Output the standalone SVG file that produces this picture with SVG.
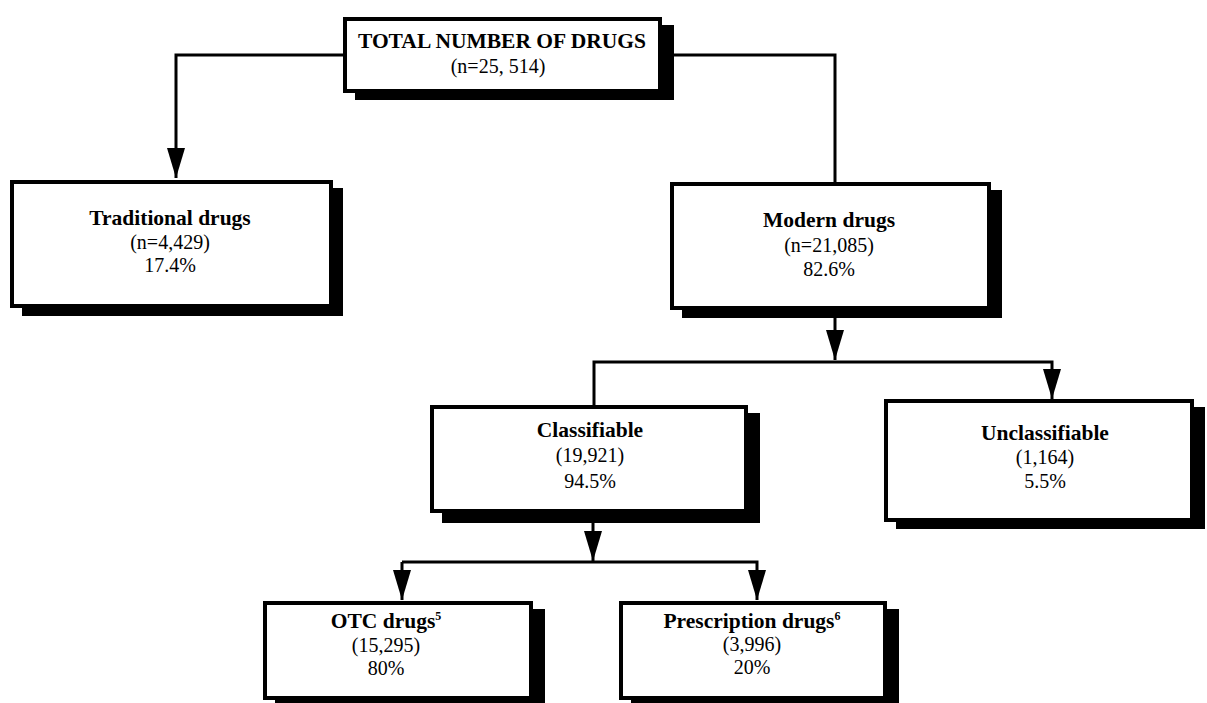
<svg xmlns="http://www.w3.org/2000/svg" width="1207" height="703" viewBox="0 0 1207 703">
<style>
.box{fill:#fff;stroke:#000;stroke-width:4}
.sh{fill:#000}
.ln{fill:none;stroke:#000;stroke-width:3}
text{font-family:"Liberation Serif","Times New Roman",serif;font-size:20px;fill:#000;text-anchor:middle}
.b{font-weight:bold;font-size:21.5px}
.sup{font-size:12px}
</style>
<defs>
<marker id="ah" viewBox="0 0 30 18" refX="30" refY="9" markerWidth="30" markerHeight="18" markerUnits="userSpaceOnUse" orient="auto">
<path d="M0,0 L30,9 L0,18 z" fill="#000"/>
</marker>
</defs>
<rect width="1207" height="703" fill="#fff"/>
<g id="connectors">
<polyline class="ln" points="343,55 176,55 176,178" marker-end="url(#ah)"/>
<polyline class="ln" points="674,55 835,55 835,182"/>
<line class="ln" x1="835" y1="318" x2="835" y2="360" marker-end="url(#ah)"/>
<polyline class="ln" points="594,405 594,362 1052,362 1052,399" marker-end="url(#ah)"/>
<line class="ln" x1="593" y1="523" x2="593" y2="561" marker-end="url(#ah)"/>
<polyline class="ln" points="402,562 757,562 757,600" marker-end="url(#ah)"/>
<line class="ln" x1="402" y1="562" x2="402" y2="600" marker-end="url(#ah)"/>
</g>
<g id="n-total">
<rect class="sh" x="355" y="25" width="319" height="75"/>
<rect class="box" x="345" y="19" width="315" height="72"/>
<text class="b" x="502" y="48">TOTAL NUMBER OF DRUGS</text>
<text x="498" y="73">(n=25, 514)</text>
</g>
<g id="n-traditional">
<rect class="sh" x="22" y="188" width="321" height="128"/>
<rect class="box" x="12" y="182" width="319" height="124"/>
<text class="b" x="170" y="225">Traditional drugs</text>
<text x="170" y="249">(n=4,429)</text>
<text x="170" y="272">17.4%</text>
</g>
<g id="n-modern">
<rect class="sh" x="682" y="190" width="320" height="128"/>
<rect class="box" x="672" y="184" width="317" height="124"/>
<text class="b" x="829" y="227">Modern drugs</text>
<text x="829" y="252">(n=21,085)</text>
<text x="829" y="276">82.6%</text>
</g>
<g id="n-classifiable">
<rect class="sh" x="442" y="413" width="318" height="110"/>
<rect class="box" x="432" y="407" width="314" height="104"/>
<text class="b" x="590" y="437">Classifiable</text>
<text x="590" y="462">(19,921)</text>
<text x="590" y="488">94.5%</text>
</g>
<g id="n-unclassifiable">
<rect class="sh" x="896" y="407" width="309" height="122"/>
<rect class="box" x="886" y="401" width="306" height="119"/>
<text class="b" x="1045" y="440">Unclassifiable</text>
<text x="1045" y="464">(1,164)</text>
<text x="1045" y="488">5.5%</text>
</g>
<g id="n-otc">
<rect class="sh" x="275" y="609" width="270" height="100"/>
<rect class="box" x="265" y="603" width="266" height="95"/>
<text class="b" x="386" y="628">OTC drugs<tspan class="sup" dy="-8">5</tspan></text>
<text x="386" y="652">(15,295)</text>
<text x="386" y="675">80%</text>
</g>
<g id="n-prescription">
<rect class="sh" x="631" y="609" width="268" height="100"/>
<rect class="box" x="621" y="603" width="264" height="95"/>
<text class="b" x="752" y="628">Prescription drugs<tspan class="sup" dy="-8">6</tspan></text>
<text x="752" y="651">(3,996)</text>
<text x="752" y="674">20%</text>
</g>
</svg>
